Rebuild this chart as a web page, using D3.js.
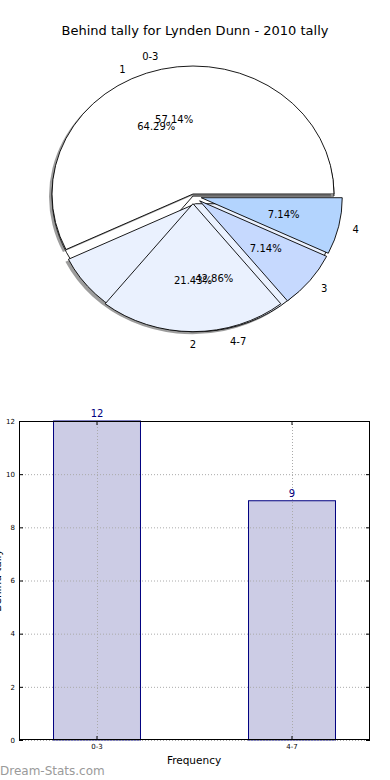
<!DOCTYPE html>
<html><head><meta charset="utf-8">
<script src="https://cdn.jsdelivr.net/npm/d3@7"></script>
<style>body{margin:0;background:#fff} svg{display:block;font-family:"DejaVu Sans",sans-serif}</style>
</head><body>
<svg id="c" width="390" height="780"></svg>
<script>
const title = "Behind tally for Lynden Dunn - 2010 tally";
const groupLabels = ["0-3", "4-7"];
const groupValues = [12, 9];
const tallyLabels = ["1", "2", "3", "4"];
const tallyValues = [9, 3, 1, 1];
const yTicks = [0, 2, 4, 6, 8, 10, 12];
const xAxisLabel = "Frequency";
const yAxisLabel = "Behind tally";
const watermark = "Dream-Stats.com";

const svg = d3.select("#c");

// ---------- pie charts ----------
const P1 = {cx: 193, cy: 194}, P2 = {cx: 193, cy: 196}, RX = 141, RY = 128;
const explode1 = [0, 0.078], explode2 = [0, 0.06, 0.06, 0.06];
const colors1 = ["#ffffff", "#eaf1fe"];
const colors2 = ["#ffffff", "#eaf1fe", "#c6d9fe", "#b3d4fe"];

const pie = d3.pie().sort(null).startAngle(Math.PI / 2).endAngle(Math.PI / 2 - 2 * Math.PI);
const arcU = d3.arc().innerRadius(0).outerRadius(1);
const arcs1 = pie(groupValues), arcs2 = pie(tallyValues);
const mid = d => (d.startAngle + d.endAngle) / 2;
const dir = a => [Math.sin(a), -Math.cos(a)];

const gPie = svg.append("g");
function wedge(d, center, e, fill, dx, dy, shadow) {
  const [ux, uy] = dir(mid(d));
  const p = gPie.append("path").attr("d", arcU(d))
    .attr("transform", `translate(${center.cx + dx},${center.cy + dy}) scale(${RX},${RY}) translate(${e * ux},${e * uy})`);
  if (shadow) {
    p.attr("fill", "#4d4d4d").attr("fill-opacity", 0.55).attr("stroke", "none");
  } else {
    p.attr("fill", fill).attr("stroke", "#000").attr("stroke-width", 0.9)
      .attr("vector-effect", "non-scaling-stroke").attr("stroke-linejoin", "round");
  }
  return p;
}
// first slice of second pie (lies underneath)
wedge(arcs2[0], P2, explode2[0], colors2[0], 0, 0, false);
// shadows of first pie
arcs1.forEach((d, i) => wedge(d, P1, explode1[i], null, -3, 2.5, true));
// first pie
arcs1.forEach((d, i) => wedge(d, P1, explode1[i], colors1[i], 0, 0, false));
// remaining slices of second pie
arcs2.forEach((d, i) => { if (i > 0) wedge(d, P2, explode2[i], colors2[i], 0, 0, false); });

function labels(arcs, names, center, expl) {
  const total = d3.sum(arcs, d => d.value);
  arcs.forEach((d, i) => {
    const [ux, uy] = dir(mid(d));
    const e = expl[i];
    const lx = center.cx + (1.1 + e) * ux * RX, ly = center.cy + (1.1 + e) * uy * RY;
    const anchor = Math.abs(ux) < 1e-6 ? "middle" : (ux > 0 ? "start" : "end");
    gPie.append("text").attr("x", lx).attr("y", ly).attr("text-anchor", anchor)
      .attr("dominant-baseline", "central").attr("font-size", 10).text(names[i]);
    const px = center.cx + (0.6 + e) * ux * RX, py = center.cy + (0.6 + e) * uy * RY;
    gPie.append("text").attr("x", px).attr("y", py).attr("text-anchor", "middle")
      .attr("dominant-baseline", "central").attr("font-size", 10)
      .text((d.value / total * 100).toFixed(2) + "%");
  });
}
labels(arcs1, groupLabels, P1, explode1);
labels(arcs2, tallyLabels, P2, explode2);

svg.append("text").attr("x", 195).attr("y", 35).attr("text-anchor", "middle")
  .attr("font-size", 13).text(title);

// ---------- bar chart ----------
const L = 19, R = 370, T = 421, B = 740;
const x = d3.scaleBand().domain(groupLabels).range([L, R]).paddingInner(0.554).paddingOuter(0.177);
const y = d3.scaleLinear().domain([0, 12]).range([B, T]);
const gBar = svg.append("g");

gBar.selectAll("rect.bar").data(groupLabels).join("rect").attr("class", "bar")
  .attr("x", d => x(d)).attr("width", x.bandwidth())
  .attr("y", (d, i) => y(groupValues[i])).attr("height", (d, i) => B - y(groupValues[i]))
  .attr("fill", "#cccce5").attr("stroke", "#000080").attr("stroke-width", 1);

// grid
gBar.selectAll("line.hg").data(yTicks).join("line").attr("class", "hg")
  .attr("x1", L).attr("x2", R).attr("y1", d => y(d) + 0.5).attr("y2", d => y(d) + 0.5)
  .attr("stroke", "#aaa").attr("stroke-width", 1).attr("stroke-dasharray", "1,2");
gBar.selectAll("line.vg").data(groupLabels).join("line").attr("class", "vg")
  .attr("x1", d => x(d) + x.bandwidth() / 2 + 0.5).attr("x2", d => x(d) + x.bandwidth() / 2 + 0.5)
  .attr("y1", T).attr("y2", B)
  .attr("stroke", "#aaa").attr("stroke-width", 1).attr("stroke-dasharray", "1,2");

// axes
const ya = gBar.append("g").attr("transform", `translate(${L},0)`)
  .call(d3.axisLeft(y).tickValues(yTicks).tickFormat(d3.format("d")).tickSizeInner(-4).tickSizeOuter(0).tickPadding(4));
ya.select(".domain").remove();
ya.selectAll("text").attr("font-size", 7).attr("font-family", "DejaVu Sans").attr("fill", "#000");
const ya2 = gBar.append("g").attr("transform", `translate(${R},0)`)
  .call(d3.axisRight(y).tickValues(yTicks).tickSizeInner(-4).tickSizeOuter(0).tickFormat(""));
ya2.select(".domain").remove();
const xa = gBar.append("g").attr("transform", `translate(0,${B})`)
  .call(d3.axisBottom(x).tickSizeInner(-4).tickSizeOuter(0).tickPadding(4));
xa.select(".domain").remove();
xa.selectAll("text").attr("font-size", 7).attr("font-family", "DejaVu Sans").attr("fill", "#000");
const xa2 = gBar.append("g").attr("transform", `translate(0,${T})`)
  .call(d3.axisTop(x).tickSizeInner(-4).tickSizeOuter(0).tickFormat(""));
xa2.select(".domain").remove();

gBar.append("rect").attr("x", L + 0.5).attr("y", T + 0.5).attr("width", R - L - 1).attr("height", B - T - 1)
  .attr("fill", "none").attr("stroke", "#000").attr("stroke-width", 1);

// value labels
gBar.selectAll("text.val").data(groupLabels).join("text").attr("class", "val")
  .attr("x", d => x(d) + x.bandwidth() / 2).attr("y", (d, i) => y(groupValues[i]) - 4)
  .attr("text-anchor", "middle").attr("font-size", 10).attr("fill", "#000080")
  .text((d, i) => groupValues[i]);

svg.append("text").attr("x", 194).attr("y", 764).attr("text-anchor", "middle")
  .attr("font-size", 10.5).text(xAxisLabel);
svg.append("text").attr("transform", `translate(1,${(T + B) / 2}) rotate(-90)`)
  .attr("text-anchor", "middle").attr("font-size", 10.5).text(yAxisLabel);
svg.append("text").attr("x", 0).attr("y", 775).attr("font-size", 12).attr("fill", "#9a9a9a")
  .text(watermark);
</script>
</body></html>
